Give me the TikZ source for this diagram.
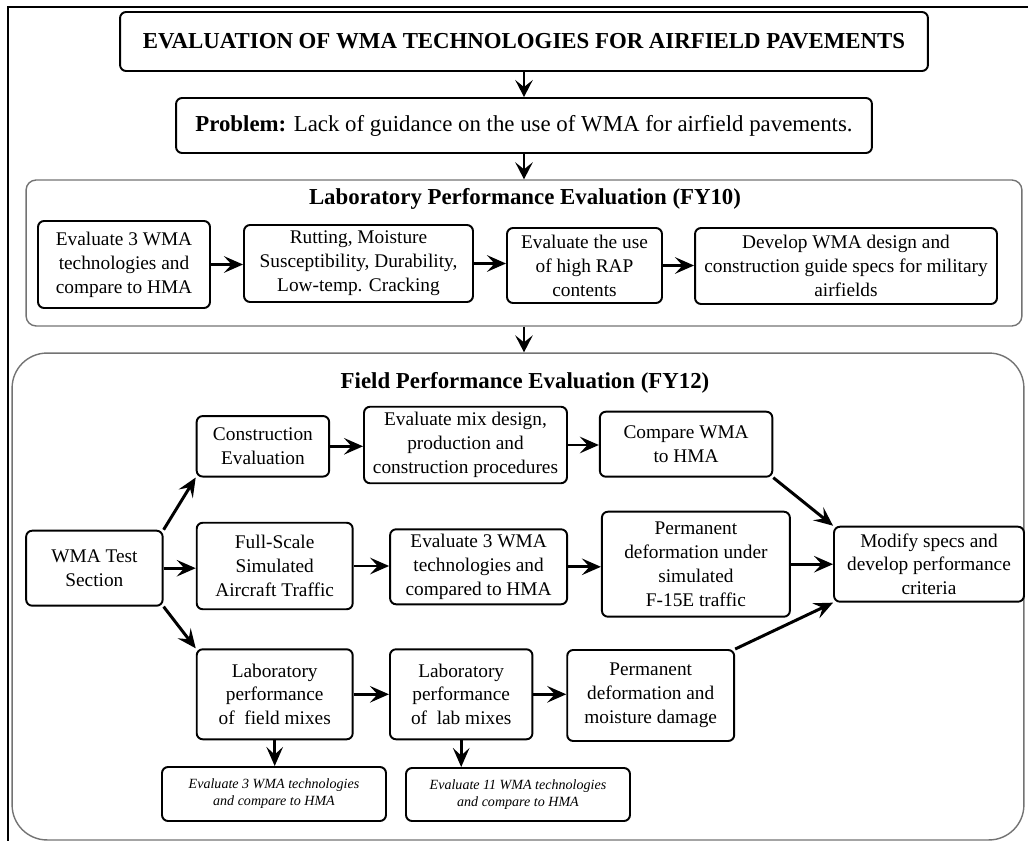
\documentclass[tikz,border=0pt]{standalone}
\usepackage{fontspec}
\setmainfont{Liberation Serif}
\usetikzlibrary{arrows.meta}

\begin{document}
\begin{tikzpicture}[x=0.02cm, y=-0.02cm,
		box/.style={draw, line width=1.1pt, rounded corners=1.2mm, align=center, inner sep=0pt, font=\fontsize{11}{13.6}\selectfont},
		note/.style={box, font=\fontsize{8}{9.6}\selectfont\itshape},
		frame/.style={draw=black!55, line width=0.8pt, inner sep=0pt},
		head/.style={font=\fontsize{13}{15}\selectfont\bfseries},
		arr/.style={-{Stealth[length=3.8mm,width=3.3mm,inset=1.5mm]}, line width=1.7pt},
		thinarr/.style={-{Stealth[length=3.4mm,width=3.5mm,inset=1.4mm]}, line width=1.1pt}]
			%%%%% START %%%%%
			\useasboundingbox (0,0) rectangle (1028,841);
			\draw[line width=0.6pt] (8,841) -- (8,7) -- (1028,7);
			
			\node[box, minimum width=16.16cm, minimum height=1.18cm, font=\fontsize{13}{15}\selectfont\bfseries] (title) at (524,41.5) {EVALUATION OF WMA TECHNOLOGIES FOR AIRFIELD PAVEMENTS};
			\node[box, minimum width=13.92cm, minimum height=1.1cm, font=\fontsize{13}{15}\selectfont] (problem) at (524,125.5) {\textbf{Problem:} Lack of guidance on the use of WMA for airfield pavements.};
			
			% laboratory part
			\node[frame, rounded corners=2mm, minimum width=19.92cm, minimum height=2.92cm] (labFrame) at (524,253) {};
			\node[head] (labTitle) at (525,199) {Laboratory Performance Evaluation (FY10)};
			\node[box, minimum width=3.44cm, minimum height=1.74cm] (labCompare) at (124,264.5) {Evaluate 3 WMA\\technologies and\\compare to HMA};
			\node[box, minimum width=4.58cm, minimum height=1.54cm] (labTests) at (358.5,263.5) {Rutting, Moisture\\Susceptibility, Durability,\\Low-temp. Cracking};
			\node[box, minimum width=3.1cm, minimum height=1.5cm] (labRap) at (584.5,265.5) {Evaluate the use\\of high RAP\\contents};
			\node[box, minimum width=6.04cm, minimum height=1.52cm] (labSpecs) at (846,266) {Develop WMA design and\\construction guide specs for military\\airfields};
			
			\draw[thinarr] (title) -- (problem);
			\draw[thinarr] (problem) -- (labFrame);
			\draw[arr] (labCompare.east) -- (labCompare.east -| labTests.west);
			\draw[arr] (labTests.east) -- (labTests.east -| labRap.west);
			\draw[arr] (labRap.east) -- (labRap.east -| labSpecs.west);
			
			% field part
			\node[frame, rounded corners=7mm, minimum width=20.24cm, minimum height=9.74cm] (fieldFrame) at (518,596.5) {};
			\node[head] (fieldTitle) at (525,383) {Field Performance Evaluation (FY12)};
			\draw[thinarr] (labFrame.south) -- (labFrame.south |- fieldFrame.north);
			
			\node[box, minimum width=2.73cm, minimum height=1.5cm] (testSec) at (94.4,568.2) {WMA Test\\Section};
			\node[box, minimum width=2.65cm, minimum height=1.21cm] (constrEval) at (262.9,446.3) {Construction\\Evaluation};
			\node[box, minimum width=4.06cm, minimum height=1.53cm] (mixDesign) at (465.5,445) {Evaluate mix design,\\production and\\construction procedures};
			\node[box, minimum width=3.45cm, minimum height=1.3cm] (compareHma) at (686.1,444.2) {Compare WMA\\to HMA};
			\node[box, minimum width=3.8cm, minimum height=1.5cm] (modifySpecs) at (929,564.2) {Modify specs and\\develop performance\\criteria};
			\node[box, minimum width=3.12cm, minimum height=1.73cm] (fullScale) at (274.7,566) {Full-Scale\\Simulated\\Aircraft Traffic};
			\node[box, minimum width=3.54cm, minimum height=1.5cm] (fieldCompare) at (478.6,566.8) {Evaluate 3 WMA\\technologies and\\compared to HMA};
			\node[box, minimum width=3.76cm, minimum height=2.1cm] (permTraffic) at (695.9,564.2) {Permanent\\deformation under\\simulated\\F-15E traffic};
			\node[box, minimum width=3.12cm, minimum height=1.8cm] (labField) at (274.7,694.3) {Laboratory\\performance\\of~ field mixes};
			\node[box, minimum width=2.85cm, minimum height=1.8cm] (labLab) at (461.2,694.3) {Laboratory\\performance\\of~ lab mixes};
			\node[box, minimum width=3.34cm, minimum height=1.82cm] (permMoist) at (650.7,695.5) {Permanent\\deformation and\\moisture damage};
			\node[note, minimum width=4.48cm, minimum height=1.08cm] (noteField) at (274,794) {Evaluate 3 WMA technologies\\and compare to HMA};
			\node[note, minimum width=4.48cm, minimum height=1.06cm] (noteLab) at (518,794.5) {Evaluate 11 WMA technologies\\and compare to HMA};
			
			\draw[arr] (testSec.north east) -- (constrEval.south west);
			\draw[arr] (testSec.east) -- (testSec.east -| fullScale.west);
			\draw[arr] (testSec.south east) -- (labField.north west);
			\draw[arr] (constrEval.east) -- (constrEval.east -| mixDesign.west);
			\draw[arr] (mixDesign.east) -- (mixDesign.east -| compareHma.west);
			\draw[arr] (compareHma.south east) -- (modifySpecs.north west);
			\draw[arr] (fullScale.east) -- (fullScale.east -| fieldCompare.west);
			\draw[arr] (fieldCompare.east) -- (fieldCompare.east -| permTraffic.west);
			\draw[arr] (permTraffic.east) -- (permTraffic.east -| modifySpecs.west);
			\draw[arr] (labField.east) -- (labField.east -| labLab.west);
			\draw[arr] (labLab.east) -- (labLab.east -| permMoist.west);
			\draw[arr] (permMoist.north east) -- (modifySpecs.south west);
			\draw[arr] (labField.south) -- (labField.south |- noteField.north);
			\draw[arr] (labLab.south) -- (labLab.south |- noteLab.north);
			
			%%%%% END %%%%%
\end{tikzpicture}
\end{document}
